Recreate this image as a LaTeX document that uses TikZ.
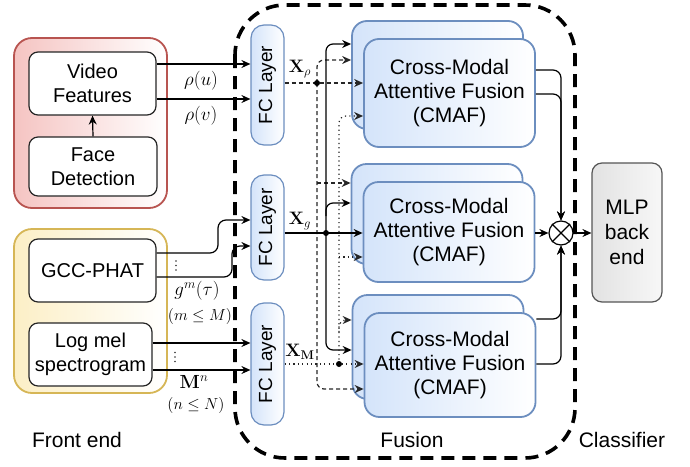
\RequirePackage{fix-cm}
\documentclass[tikz,border=0pt]{standalone}
\usepackage[no-math]{fontspec}
\setmainfont{Liberation Sans}
\usepackage{graphicx}
\usetikzlibrary{arrows.meta}
\definecolor{redS}{HTML}{B85450}
\definecolor{redF}{HTML}{F5C4C2}
\definecolor{yelS}{HTML}{D6B656}
\definecolor{yelF}{HTML}{FCEFC6}
\definecolor{bluS}{HTML}{6C8EBF}
\definecolor{bluF}{HTML}{D4E4FA}
\definecolor{gryS}{HTML}{555555}
\definecolor{gryF}{HTML}{E2E2E2}
\begin{document}
\begin{tikzpicture}[x=1pt,y=-1pt,
  ibox/.style={draw=black!85, line width=1.2pt, fill=white, rounded corners=9pt,
    align=center, inner sep=0pt, font=\fontsize{20}{24}\selectfont},
  redbox/.style={draw=redS, line width=1.8pt, rounded corners=18pt, left color=redF, right color=white},
  yelbox/.style={draw=yelS, line width=1.8pt, rounded corners=18pt, left color=yelF, right color=white},
  fcbox/.style={draw=bluS, line width=1.2pt, rounded corners=13pt, left color=bluF, right color=white,
    minimum width=33pt, inner sep=0pt, font=\fontsize{19}{22}\selectfont},
  cmbox/.style={draw=bluS, line width=1.8pt, rounded corners=15pt, left color=bluF, right color=white,
    minimum width=171pt, align=center, inner sep=0pt, font=\fontsize{21}{24}\selectfont},
  mlpbox/.style={draw=gryS, line width=1.2pt, rounded corners=10pt, left color=gryF, right color=white!97!black,
    align=center, inner sep=0pt, font=\fontsize{21}{25}\selectfont},
  lbl/.style={inner sep=0pt, font=\fontsize{21}{24}\selectfont},
  mlbl/.style={inner sep=0pt, font=\fontsize{19}{21}\selectfont},
  slbl/.style={inner sep=0pt, font=\fontsize{16}{18}\selectfont},
  xlbl/.style={inner sep=0pt, font=\fontsize{18}{20}\selectfont},
  arr/.style={-{Stealth[length=9pt,width=8pt,inset=3pt]}},
  sol/.style={line width=1.2pt, black},
  dsh/.style={line width=1.2pt, black!85, dash pattern=on 4pt off 3pt},
  dtt/.style={line width=1.2pt, black!85, dash pattern=on 1.2pt off 3.2pt},
  jdot/.style={circle, fill=black, inner sep=0pt, minimum size=6pt},
  vdot/.style={circle, fill=black!80, inner sep=0pt, minimum size=1.8pt}
]
\useasboundingbox (0,0) rectangle (690,466);

% Fusion border
\draw[line width=3.6pt, dash pattern=on 13pt off 8pt, rounded corners=50pt] (235,5) rectangle (575,458);

% Front end
\node[redbox, minimum width=153pt, minimum height=170pt] (fe1) at (90.5,123) {};
\node[ibox, minimum width=127pt, minimum height=63pt] (vf) at (92.5,83.5) {Video\\Features};
\node[ibox, minimum width=128pt, minimum height=59pt] (fd) at (93,166.5) {Face\\Detection};
\node[yelbox, minimum width=153pt, minimum height=164pt] (fe2) at (90.5,311) {};
\node[ibox, minimum width=127pt, minimum height=63pt] (gcc) at (92.5,270.5) {GCC-PHAT};
\node[ibox, minimum width=123pt, minimum height=63pt] (lms) at (90.5,354.5) {Log mel\\spectrogram};

\draw[sol,arr] (fd.north) -- (vf.south);

% FC layers
\node[fcbox, minimum height=120pt] (fc1) at (267.5,85) {\rotatebox{90}{FC Layer}};
\node[fcbox, minimum height=105pt] (fc2) at (267.5,227.5) {\rotatebox{90}{FC Layer}};
\node[fcbox, minimum height=122pt] (fc3) at (267.5,364) {\rotatebox{90}{FC Layer}};

% CMAF blocks
\node[cmbox, minimum height=108pt] (cm1b) at (437.5,75) {};
\node[cmbox, minimum height=108pt] (cm1f) at (449.5,93) {Cross-Modal\\Attentive Fusion\\(CMAF)};
\node[cmbox, minimum height=100pt] (cm2b) at (437,214) {};
\node[cmbox, minimum height=100pt] (cm2f) at (449,232) {Cross-Modal\\Attentive Fusion\\(CMAF)};
\node[cmbox, minimum height=104pt] (cm3b) at (438,347) {};
\node[cmbox, minimum height=104pt] (cm3f) at (450,365) {Cross-Modal\\Attentive Fusion\\(CMAF)};

% Classifier
\node[mlpbox, minimum width=70pt, minimum height=139pt] (mlp) at (627,232.5) {MLP\\back\\end};
\node[circle, draw, line width=1.2pt, minimum size=24pt, inner sep=0pt, fill=white] (ox) at (561,233) {};
\draw[line width=1.2pt] (ox.north east) -- (ox.south west) (ox.north west) -- (ox.south east);

% front end -> FC
\draw[sol,arr] (vf.east|-0,64) -- (fc1.west|-0,64);
\draw[sol,arr] (vf.east|-0,99) -- (fc1.west|-0,99);
\draw[sol,arr,rounded corners=8pt] (gcc.east|-0,253) -- (218,253) -- (218,220) -- (fc2.west|-0,220);
\draw[sol,arr,rounded corners=8pt] (gcc.east|-0,277) -- (232,277) -- (232,246) -- (fc2.west|-0,246);
\draw[sol,arr] (lms.east|-0,343) -- (fc3.west|-0,343);
\draw[sol,arr] (lms.east|-0,370) -- (fc3.west|-0,370);

\node[mlbl] (lru) at (201,81) {$\rho(u)$};
\node[mlbl] (lrv) at (201,116) {$\rho(v)$};
\foreach \yy in {261,265.5,270} {\node[vdot] at (176,\yy) {};}
\foreach \yy in {352.5,357,361.5} {\node[vdot] at (175,\yy) {};}
\node[mlbl] (lg) at (197,291) {$g^m(\tau)$};
\node[slbl] (lgm) at (200,316) {$(m\leq M)$};
\node[mlbl] (lm) at (194,382) {$\mathbf{M}^n$};
\node[slbl] (lmn) at (196,405) {$(n\leq N)$};

% X_rho (dashed)
\coordinate (jr) at (317,83);
\draw[dsh,arr] (fc1.east|-jr) -- (cm1f.west|-jr);
\draw[dsh,arr,rounded corners=7pt] (jr) -- (jr|-0,60) -- (cm1b.west|-0,60);
\draw[dsh,arr] (jr|-0,183) -- (cm2b.west|-0,183);
\draw[dsh,arr,rounded corners=7pt] (jr) -- (jr|-0,389) -- (cm3f.west|-0,389);

% X_g (solid)
\coordinate (jg) at (326,233);
\draw[sol,arr] (fc2.east|-jg) -- (cm2f.west|-jg);
\draw[sol,arr,rounded corners=7pt] (jg) -- (jg|-0,44) -- (cm1b.west|-0,44);
\draw[sol,arr,rounded corners=7pt] (jg|-0,216) -- (jg|-0,203) -- (cm2b.west|-0,203);
\draw[sol,arr,rounded corners=7pt] (jg) -- (jg|-0,350) -- (cm3b.west|-0,350);

% X_M (dotted)
\coordinate (jm) at (339,364);
\draw[dtt,arr] (fc3.east|-jm) -- (cm3f.west|-jm);
\draw[dtt,arr,rounded corners=7pt] (jm) -- (jm|-0,116) -- (cm1f.west|-0,116);
\draw[dtt,arr] (jm|-0,257) -- (cm2f.west|-0,257);
\draw[dtt,arr,rounded corners=7pt] (jm|-0,332) -- (jm|-0,320) -- (cm3b.west|-0,320);

\node[jdot] (djr) at (jr) {};
\node[jdot] (djg) at (jg) {};
\node[jdot] (djm) at (jm) {};

\node[xlbl] (lxr) at (300,69) {$\mathbf{X}_\rho$};
\node[xlbl] (lxg) at (300,221) {$\mathbf{X}_g$};
\node[xlbl] (lxm) at (300,352) {$\mathbf{X}_\mathbf{M}$};

% CMAF -> otimes
\draw[sol,arr,rounded corners=8pt] (cm1f.east|-0,70) -- (ox|-0,70) -- (ox.north);
\draw[sol,arr,rounded corners=8pt] (cm1f.east|-0,94) -- (ox|-0,94) -- (ox.north);
\draw[sol,arr] (cm2f.east|-ox) -- (ox.west);
\draw[sol,arr,rounded corners=8pt] (cm3f.east|-0,319) -- (ox|-0,319) -- (ox.south);
\draw[sol,arr,rounded corners=8pt] (cm3f.east|-0,364) -- (ox|-0,364) -- (ox.south);
\draw[sol,arr] (ox.east) -- (mlp.west|-ox);

% bottom labels
\node[lbl] (tfe) at (77,440) {Front end};
\node[lbl] (tfu) at (412,440) {Fusion};
\node[lbl] (tcl) at (622,440) {Classifier};
\end{tikzpicture}
\end{document}
